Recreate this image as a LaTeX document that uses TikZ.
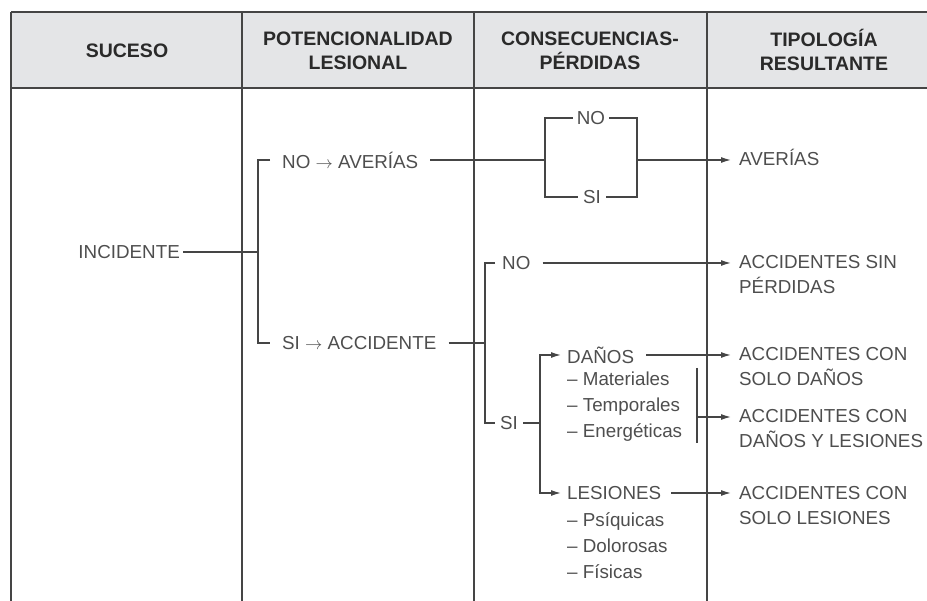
\documentclass[tikz,border=0pt]{standalone}
\usepackage{fontspec}
\setmainfont{Liberation Sans}
\usetikzlibrary{arrows.meta}
\definecolor{ln}{HTML}{454545}
\definecolor{tx}{HTML}{4E4E4E}
\definecolor{hd}{HTML}{2A2A2A}
\definecolor{hf}{HTML}{E4E5E7}
\newcommand{\myarr}{$\rightarrow$}
\begin{document}
\begin{tikzpicture}[x=1pt,y=-1pt,
  rule/.style={draw=ln,line width=1.4pt},
  conn/.style={draw=ln,line width=1.3pt},
  arr/.style={conn,-{Latex[length=10pt,width=6pt]}},
  head/.style={font=\fontsize{19.5}{24.5}\selectfont\bfseries,text=hd,align=center,inner sep=0pt},
  lbl/.style={font=\fontsize{18.8}{25}\selectfont,text=tx,inner ysep=0pt,inner xsep=6pt},
  lst/.style={font=\fontsize{18.8}{26}\selectfont,text=tx,inner sep=0pt,align=left,anchor=base west},
  res/.style={font=\fontsize{18.8}{25}\selectfont,text=tx,inner sep=0pt,align=left,anchor=base west},
]
\useasboundingbox (0,0) rectangle (927,601);
% table frame
\fill[hf] (11,12) rectangle (927,88);
\draw[rule] (11,12) -- (927,12);
\draw[rule,line width=2pt] (11,88) -- (927,88);
\foreach \cx in {11,242,474,707} {\draw[rule] (\cx,12) -- (\cx,601);}
% headers
\node[head] (h1) at (127,51) {SUCESO};
\node[head] (h2) at (358,51) {POTENCIONALIDAD\\LESIONAL};
\node[head] (h3) at (590,51) {CONSECUENCIAS-\\PÉRDIDAS};
\node[head] (h4) at (824,50) {TIPOLOGÍA\\RESULTANTE};
% column 1-2
\node[lbl,anchor=east,inner xsep=3pt] (inc) at (183,252) {INCIDENTE};
\coordinate (a1) at (258,160);
\coordinate (am) at (258,252);
\coordinate (a2) at (258,343);
\node[lbl,anchor=west,inner xsep=12pt] (noav) at (270,160) {NO \myarr\ AVERÍAS};
\node[lbl,anchor=west,inner xsep=12pt] (siacc) at (270,343) {SI \myarr\ ACCIDENTE};
\draw[conn] (inc.east) -- (am);
\draw[conn] (noav.west) -- (a1) -- (a2) -- (siacc.west);
% NO/SI loop for averias
\coordinate (bl) at (545,160);
\coordinate (br) at (637,160);
\node[lbl,inner xsep=4pt] (nob) at (591,118) {NO};
\node[lbl,inner xsep=5pt] (sib) at (592,197) {SI};
\draw[conn] (noav.east) -- (bl);
\draw[conn] (nob.west) -| (bl) |- (sib.west);
\draw[conn] (nob.east) -| (br) |- (sib.east);
\coordinate (t1) at (731,160);
\draw[arr] (br) -- (t1);
\node[res] (r1) at (739,166) {AVERÍAS};
% accident branch
\coordinate (c1) at (485,263);
\coordinate (cm) at (485,343);
\coordinate (c2) at (485,423);
\draw[conn] (siacc.east) -- (cm);
\node[lbl,anchor=west,inner xsep=7pt] (no2) at (495,263) {NO};
\node[lbl,anchor=west,inner xsep=5pt] (si2) at (495,423) {SI};
\draw[conn] (no2.west) -- (c1) -- (c2) -- (si2.west);
\coordinate (t2) at (731,263);
\draw[arr,shorten <=5pt] (no2.east) -- (t2);
\node[res] (r2) at (739,294) {ACCIDENTES SIN\\PÉRDIDAS};
% SI -> daños / lesiones
\coordinate (d1) at (540,355);
\coordinate (dm) at (540,423);
\coordinate (d2) at (540,493);
\draw[conn] (si2.east) -- (dm);
\node[lbl,anchor=west,inner xsep=6pt] (dan) at (561,355) {DAÑOS};
\node[lbl,anchor=west,inner xsep=6pt] (les) at (561,493) {LESIONES};
\draw[arr] (dm) -- (d1) -- (dan.west);
\draw[arr] (dm) -- (d2) -- (les.west);
\node[lst] (dl) at (567,438) {– Materiales\\– Temporales\\– Energéticas};
\node[lst] (ll) at (567,578) {– Psíquicas\\– Dolorosas\\– Físicas};
\coordinate (t3) at (731,355);
\coordinate (t4) at (731,417);
\coordinate (t5) at (731,493);
\coordinate (v1) at (697,368);
\coordinate (vm) at (697,417);
\coordinate (v2) at (697,443);
\draw[conn] (v1) -- (v2);
\draw[arr,shorten <=6pt] (dan.east) -- (t3);
\draw[arr] (vm) -- (t4);
\draw[arr,shorten <=4pt] (les.east) -- (t5);
\node[res] (r3) at (739,386) {ACCIDENTES CON\\SOLO DAÑOS};
\node[res] (r4) at (739,448) {ACCIDENTES CON\\DAÑOS Y LESIONES};
\node[res] (r5) at (739,525) {ACCIDENTES CON\\SOLO LESIONES};
\end{tikzpicture}
\end{document}
